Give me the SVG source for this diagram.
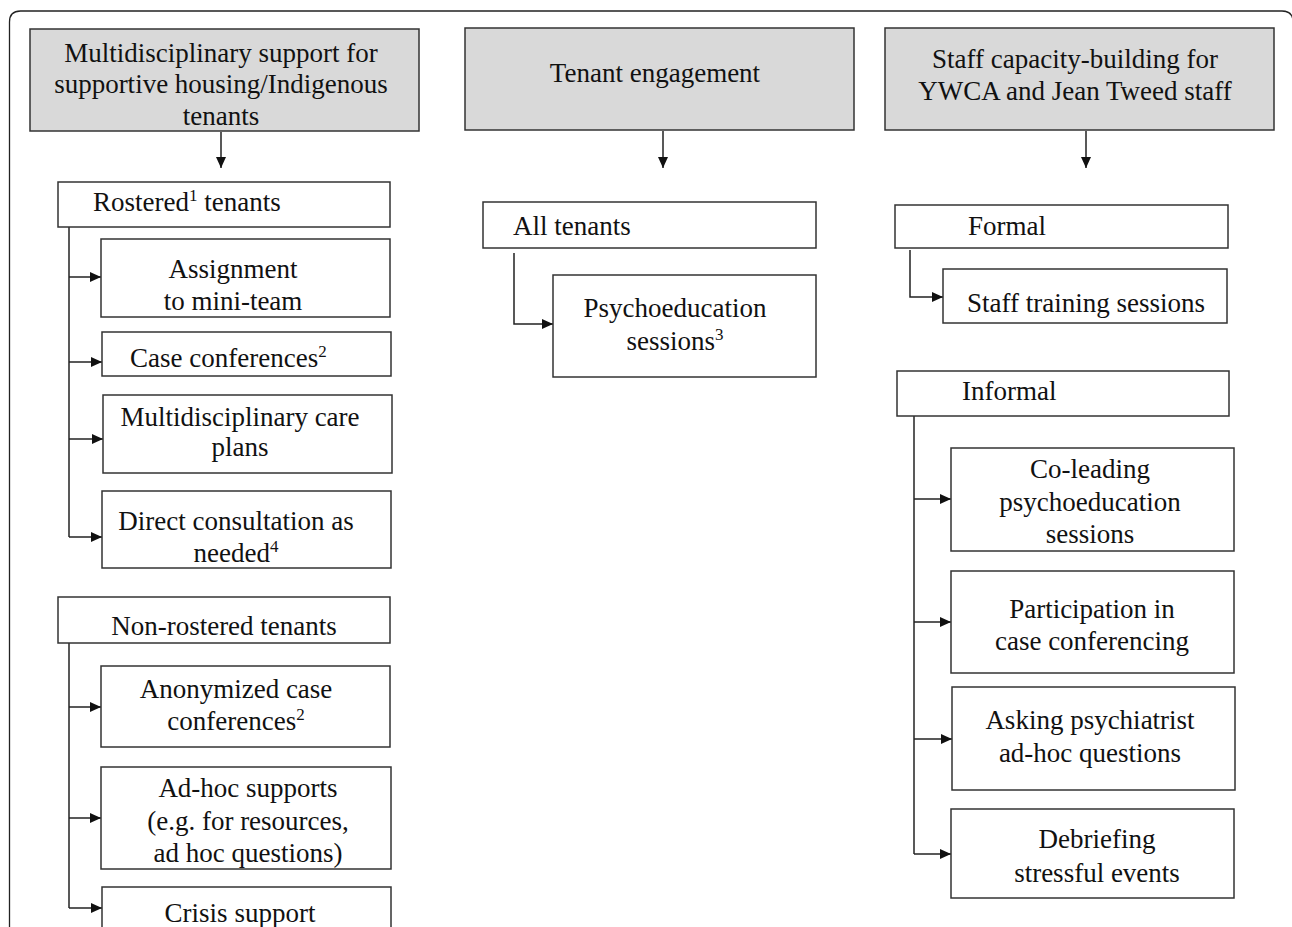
<svg xmlns="http://www.w3.org/2000/svg" width="1292" height="927" viewBox="0 0 1292 927">
<defs>
<style>
.frame{fill:none;stroke:#222;stroke-width:1.3}
.hdr{fill:#d9d9d9;stroke:#333;stroke-width:1.5}
.box{fill:#fff;stroke:#333;stroke-width:1.5}
.ln{fill:none;stroke:#222;stroke-width:1.5}
.arr{fill:none;stroke:#222;stroke-width:1.5;marker-end:url(#ah)}
text{font-family:"Liberation Serif","Times New Roman",serif;font-size:27px;fill:#111}
.c{text-anchor:middle}
.sup{font-size:17px}
</style>
<marker id="ah" markerUnits="userSpaceOnUse" markerWidth="12" markerHeight="10" refX="11" refY="5" orient="auto">
<path d="M0,0 L11,5 L0,10 z" fill="#111"/>
</marker>
</defs>
<rect width="1292" height="927" fill="#fff"/>
<path class="frame" d="M9.5 927 V22 Q9.5 11 20.5 11 H1282 Q1293 11 1293 22 V927"/>

<g id="connectors">
<path class="arr" d="M221 132 V168"/>
<path class="arr" d="M663 131 V168"/>
<path class="arr" d="M1086 131 V168"/>
<path class="ln" d="M69 227 V537"/>
<path class="arr" d="M69 277 H101"/>
<path class="arr" d="M69 362 H102"/>
<path class="arr" d="M69 439 H103"/>
<path class="arr" d="M69 537 H102"/>
<path class="ln" d="M69 643 V908"/>
<path class="arr" d="M69 707 H101"/>
<path class="arr" d="M69 818 H101"/>
<path class="arr" d="M69 908 H102"/>
<path class="arr" d="M514 253 V324 H553"/>
<path class="arr" d="M910 250 V297 H943"/>
<path class="ln" d="M914 416 V854"/>
<path class="arr" d="M914 499 H951"/>
<path class="arr" d="M914 622 H951"/>
<path class="arr" d="M914 739 H952"/>
<path class="arr" d="M914 854 H951"/>
</g>

<g id="h1"><rect class="hdr" x="30" y="29" width="389" height="102"/>
<text class="c" x="221" y="62">Multidisciplinary support for</text>
<text class="c" x="221" y="93">supportive housing/Indigenous</text>
<text class="c" x="221" y="125">tenants</text></g>

<g id="h2"><rect class="hdr" x="465" y="28" width="389" height="102"/>
<text class="c" x="655" y="82">Tenant engagement</text></g>

<g id="h3"><rect class="hdr" x="885" y="28" width="389" height="102"/>
<text class="c" x="1075" y="68">Staff capacity-building for</text>
<text class="c" x="1075" y="100">YWCA and Jean Tweed staff</text></g>

<g id="rostered"><rect class="box" x="58" y="182" width="332" height="45"/>
<text x="93" y="211">Rostered<tspan class="sup" dy="-10">1</tspan><tspan dy="10"> tenants</tspan></text></g>

<g id="assign"><rect class="box" x="101" y="239" width="289" height="78"/>
<text class="c" x="233" y="278">Assignment</text>
<text class="c" x="233" y="310">to mini-team</text></g>

<g id="caseconf"><rect class="box" x="102" y="332" width="289" height="44"/>
<text x="130" y="367">Case conferences<tspan class="sup" dy="-10">2</tspan></text></g>

<g id="careplans"><rect class="box" x="103" y="395" width="289" height="78"/>
<text class="c" x="240" y="426">Multidisciplinary care</text>
<text class="c" x="240" y="456">plans</text></g>

<g id="direct"><rect class="box" x="102" y="491" width="289" height="77"/>
<text class="c" x="236" y="530">Direct consultation as</text>
<text class="c" x="236" y="562">needed<tspan class="sup" dy="-10">4</tspan></text></g>

<g id="nonrostered"><rect class="box" x="58" y="597" width="332" height="46"/>
<text class="c" x="224" y="635">Non-rostered tenants</text></g>

<g id="anon"><rect class="box" x="101" y="666" width="289" height="81"/>
<text class="c" x="236" y="698">Anonymized case</text>
<text class="c" x="236" y="730">conferences<tspan class="sup" dy="-10">2</tspan></text></g>

<g id="adhoc"><rect class="box" x="101" y="767" width="290" height="102"/>
<text class="c" x="248" y="797">Ad-hoc supports</text>
<text class="c" x="248" y="830">(e.g. for resources,</text>
<text class="c" x="248" y="862">ad hoc questions)</text></g>

<g id="crisis"><rect class="box" x="102" y="887" width="289" height="60"/>
<text class="c" x="240" y="922">Crisis support</text></g>

<g id="alltenants"><rect class="box" x="483" y="202" width="333" height="46"/>
<text x="513" y="235">All tenants</text></g>

<g id="psycho"><rect class="box" x="553" y="275" width="263" height="102"/>
<text class="c" x="675" y="317">Psychoeducation</text>
<text class="c" x="675" y="350">sessions<tspan class="sup" dy="-10">3</tspan></text></g>

<g id="formal"><rect class="box" x="895" y="205" width="333" height="43"/>
<text x="968" y="235">Formal</text></g>

<g id="training"><rect class="box" x="943" y="269" width="284" height="54"/>
<text x="967" y="312">Staff training sessions</text></g>

<g id="informal"><rect class="box" x="897" y="371" width="332" height="45"/>
<text x="962" y="400">Informal</text></g>

<g id="colead"><rect class="box" x="951" y="448" width="283" height="103"/>
<text class="c" x="1090" y="478">Co-leading</text>
<text class="c" x="1090" y="511">psychoeducation</text>
<text class="c" x="1090" y="543">sessions</text></g>

<g id="particip"><rect class="box" x="951" y="571" width="283" height="102"/>
<text class="c" x="1092" y="618">Participation in</text>
<text class="c" x="1092" y="650">case conferencing</text></g>

<g id="asking"><rect class="box" x="952" y="687" width="283" height="103"/>
<text class="c" x="1090" y="729">Asking psychiatrist</text>
<text class="c" x="1090" y="762">ad-hoc questions</text></g>

<g id="debrief"><rect class="box" x="951" y="809" width="283" height="89"/>
<text class="c" x="1097" y="848">Debriefing</text>
<text class="c" x="1097" y="882">stressful events</text></g>
</svg>
